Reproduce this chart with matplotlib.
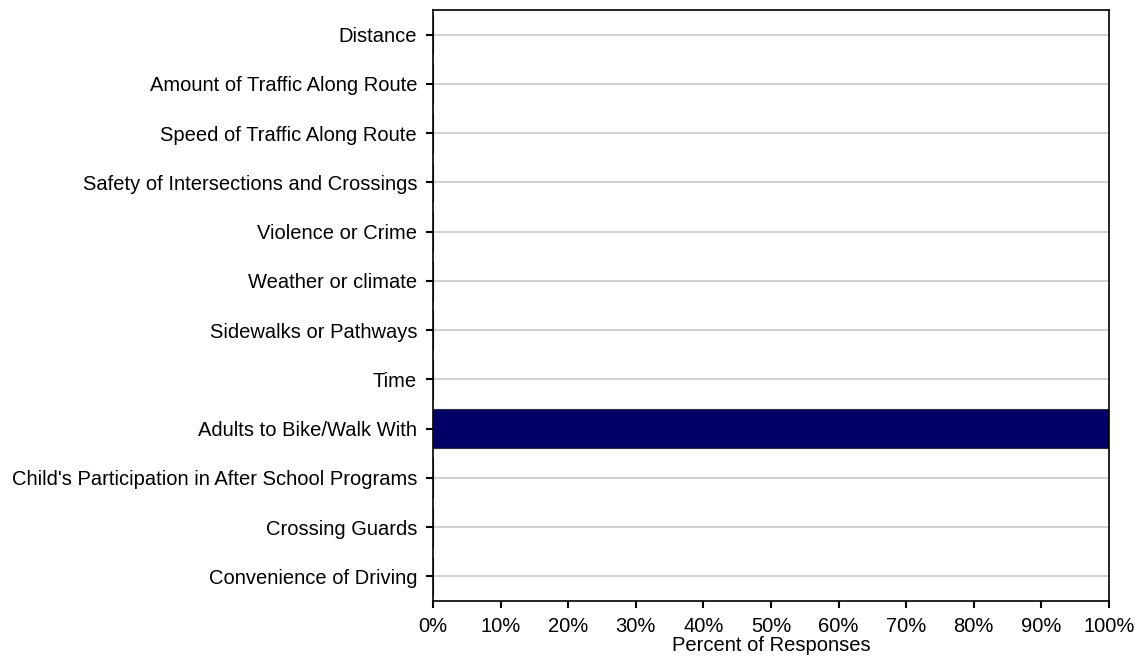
import matplotlib
matplotlib.use("Agg")
import matplotlib.pyplot as plt
import numpy as np

categories = [
    "Distance", "Amount of Traffic Along Route", "Speed of Traffic Along Route",
    "Safety of Intersections and Crossings", "Violence or Crime", "Weather or climate",
    "Sidewalks or Pathways", "Time", "Adults to Bike/Walk With",
    "Child's Participation in After School Programs", "Crossing Guards",
    "Convenience of Driving",
]
percent = [0, 0, 0, 0, 0, 0, 0, 0, 100, 0, 0, 0]
xticks = [0, 10, 20, 30, 40, 50, 60, 70, 80, 90, 100]

plt.rcParams["font.family"] = ["Liberation Sans", "DejaVu Sans"]
plt.rcParams["font.size"] = 14.5

fig = plt.figure(figsize=(11.35, 6.67), dpi=100)
ax = fig.add_axes([433 / 1135, 1 - 601 / 667, 676 / 1135, 591 / 667])

y = np.arange(len(categories))
for yy in y:
    ax.axhline(yy, color="#c8c8c8", lw=1.2, zorder=0)
ax.barh(y, percent, height=0.8, color="#000066", edgecolor="#333333", lw=0.8, zorder=2)

ax.set_xlim(0, 100)
ax.set_ylim(len(categories) - 0.5, -0.5)
ax.set_yticks(y)
ax.set_yticklabels(categories)
ax.set_xticks(xticks)
ax.set_xticklabels([f"{v}%" for v in xticks])
ax.tick_params(direction="out", length=5, width=1.5, colors="black")
ax.tick_params(axis="y", pad=6.5)
ax.tick_params(axis="x", pad=6.5)
for s in ax.spines.values():
    s.set_linewidth(1.2)
ax.set_xlabel("Percent of Responses", labelpad=0)

fig.savefig("out.png", dpi=100)
